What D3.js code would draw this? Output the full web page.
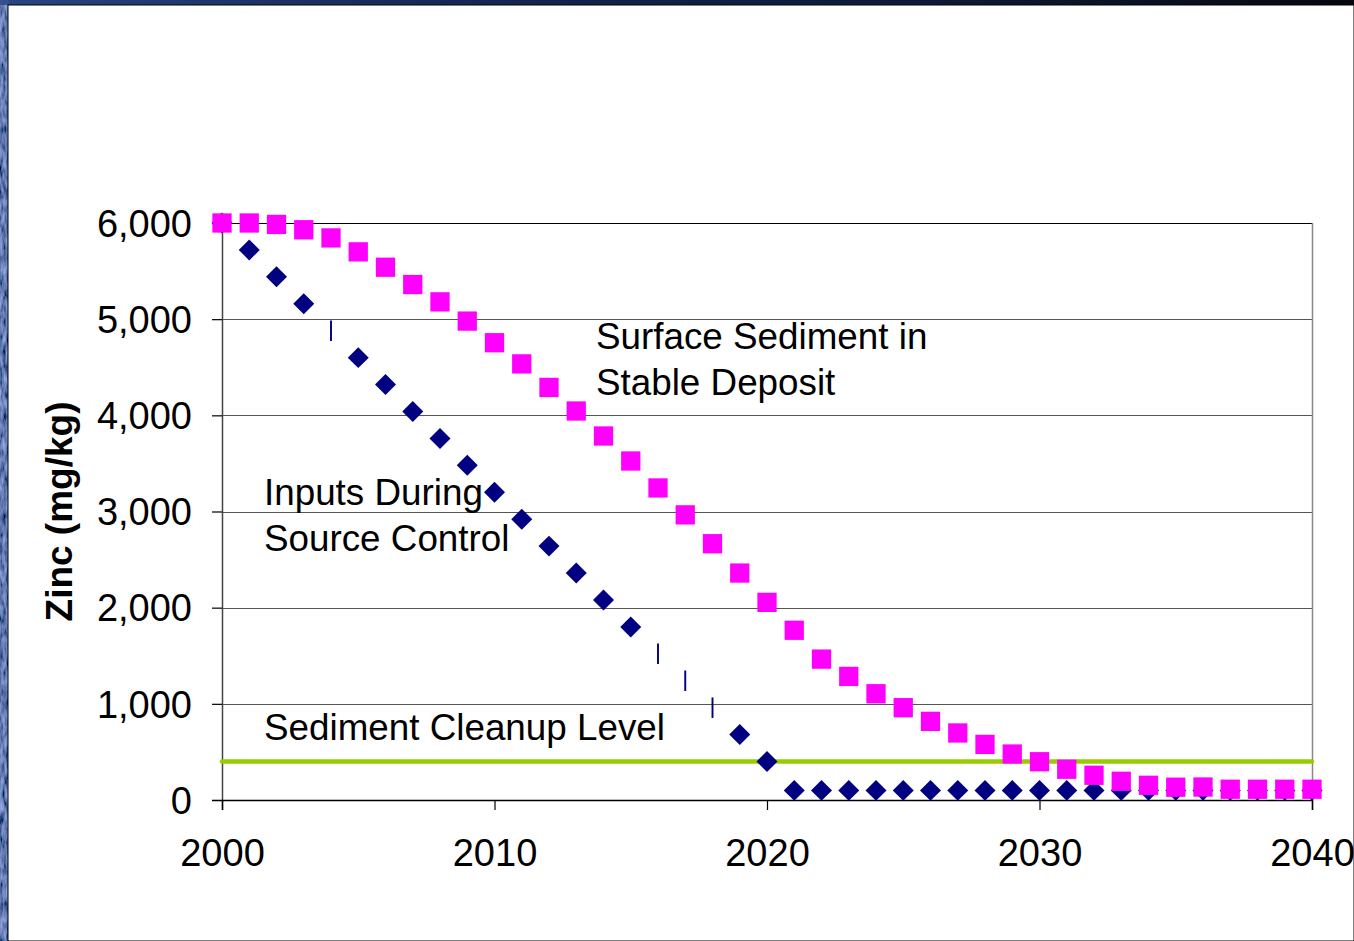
<!DOCTYPE html>
<html>
<head>
<meta charset="utf-8">
<script src="https://cdn.jsdelivr.net/npm/d3@7"></script>
<style>
  html, body { margin: 0; padding: 0; background: #fff; }
  svg { display: block; }
  text { font-family: "Liberation Sans", Arial, sans-serif; fill: #000; }
</style>
</head>
<body>
<svg id="chart" width="1354" height="941"></svg>
<script>
// Years on the x axis
const years = d3.range(2000, 2041);

// Zinc in inputs during source control (mg/kg)
const inputsZinc = [
  6000, 5720, 5440, 5160, 4880, 4600, 4320, 4040, 3760, 3480,
  3200, 2920, 2640, 2360, 2080, 1800, 1520, 1240, 960, 680,
  400, 100, 100, 100, 100, 100, 100, 100, 100, 100,
  100, 100, 100, 100, 100, 100, 100, 100, 100, 100, 100
];

// Zinc in surface sediment of the stable deposit (mg/kg)
const surfaceZinc = [
  6000, 6000, 5985, 5930, 5845, 5700, 5540, 5360, 5180, 4980,
  4755, 4535, 4290, 4045, 3785, 3525, 3245, 2965, 2665, 2360,
  2055, 1765, 1465, 1285, 1105, 960, 818, 697, 578, 478,
  398, 320, 257, 195, 153, 133, 135, 112, 112, 112, 112
];

// Years whose input markers print as thin slivers
const slimInputYears = [2004, 2016, 2017, 2018];

// Sediment cleanup level (mg/kg)
const cleanupLevel = 400;

const yTicks = [0, 1000, 2000, 3000, 4000, 5000, 6000];
const xTicks = [2000, 2010, 2020, 2030, 2040];

const svg = d3.select("#chart");
const W = 1354, H = 941;

// ---- frame: textured blue border around the white panel ----
const defs = svg.append("defs");
const water = defs.append("filter").attr("id", "water")
  .attr("x", 0).attr("y", 0).attr("width", "100%").attr("height", "100%");
water.append("feTurbulence").attr("type", "fractalNoise")
  .attr("baseFrequency", "0.3 0.08").attr("numOctaves", 3).attr("seed", 7);
water.append("feColorMatrix").attr("type", "matrix")
  .attr("values", "0.5 0 0 0 -0.12  0.6 0 0 0 -0.1  1.1 0 0 0 -0.1  0 0 0 0 1");

svg.append("rect").attr("x", 0).attr("y", 0).attr("width", W).attr("height", H)
  .attr("fill", "#0b1a3c");
svg.append("rect").attr("x", 0).attr("y", 0).attr("width", 9).attr("height", H)
  .attr("filter", "url(#water)");
const topGrad = defs.append("linearGradient").attr("id", "topfade")
  .attr("x1", 0).attr("x2", 1).attr("y1", 0).attr("y2", 0);
topGrad.append("stop").attr("offset", "0").attr("stop-color", "#2b4b8a").attr("stop-opacity", 0.9);
topGrad.append("stop").attr("offset", "0.45").attr("stop-color", "#142650").attr("stop-opacity", 0.6);
topGrad.append("stop").attr("offset", "1").attr("stop-color", "#05070d").attr("stop-opacity", 1);
svg.append("rect").attr("x", 0).attr("y", 0).attr("width", W).attr("height", 5)
  .attr("fill", "url(#topfade)");

// white panel
svg.append("rect").attr("x", 8).attr("y", 5).attr("width", W - 8).attr("height", H - 5)
  .attr("fill", "#fff").attr("stroke", "#000").attr("stroke-width", 1);

// ---- scales ----
const x = d3.scaleLinear().domain([2000, 2040]).range([222, 1312]);
const y = d3.scaleLinear().domain([0, 6000]).range([800, 223]);

// gridlines
svg.append("g").selectAll("line").data(yTicks.filter(v => v > 0)).join("line")
  .attr("x1", x(2000)).attr("x2", x(2040))
  .attr("y1", d => Math.round(y(d)) + 0.5).attr("y2", d => Math.round(y(d)) + 0.5)
  .attr("stroke", d => d === 6000 ? "#000" : "#555").attr("stroke-width", 1.2);

// right border of plot area
svg.append("line")
  .attr("x1", Math.round(x(2040)) + 0.5).attr("x2", Math.round(x(2040)) + 0.5)
  .attr("y1", y(6000)).attr("y2", y(0))
  .attr("stroke", "#888").attr("stroke-width", 1.5);

// y axis
const yAxis = d3.axisLeft(y).tickValues(yTicks)
  .tickFormat(d3.format(",")).tickSize(10).tickPadding(20);
const gy = svg.append("g").attr("transform", `translate(${x(2000)},0)`).call(yAxis);
gy.select(".domain").attr("stroke", "#444").attr("stroke-width", 1.5);
gy.selectAll(".tick line").attr("stroke", "#000").attr("stroke-width", 1.2);
gy.selectAll(".tick text").attr("font-size", 38).attr("dy", "0.35em")
  .style("font-family", "'Liberation Sans', Arial, sans-serif");

// x axis
const xAxis = d3.axisBottom(x).tickValues(xTicks)
  .tickFormat(d3.format("d")).tickSize(10).tickPadding(29);
const gx = svg.append("g").attr("transform", `translate(0,${y(0)})`).call(xAxis);
gx.select(".domain").attr("stroke", "#000").attr("stroke-width", 1.5);
gx.selectAll(".tick line").attr("stroke", "#000").attr("stroke-width", 1.2);
gx.selectAll(".tick text").attr("font-size", 38)
  .style("font-family", "'Liberation Sans', Arial, sans-serif");

// y axis title
svg.append("text")
  .attr("transform", `translate(72,${(y(0) + y(6000)) / 2}) rotate(-90)`)
  .attr("text-anchor", "middle")
  .attr("font-size", 37).attr("font-weight", "bold")
  .text("Zinc (mg/kg)");

// cleanup level line
svg.append("line")
  .attr("x1", x(2000)).attr("x2", x(2040))
  .attr("y1", y(cleanupLevel)).attr("y2", y(cleanupLevel))
  .attr("stroke", "#99cc00").attr("stroke-width", 4.5).attr("stroke-linecap", "round");

// input markers (diamonds; a few print as thin vertical slivers)
const inputSquare = d3.symbol(d3.symbolSquare).size(220)();
svg.append("g").selectAll("path")
  .data(years.map((yr, i) => ({ yr, v: inputsZinc[i] })))
  .join("path")
  .attr("d", inputSquare)
  .attr("fill", "#000080")
  .attr("transform", d => slimInputYears.includes(d.yr)
    ? `translate(${x(d.yr)},${y(d.v)}) scale(0.13,1.38)`
    : `translate(${x(d.yr)},${y(d.v)}) rotate(45)`);

// surface sediment markers (squares)
const square = d3.symbol(d3.symbolSquare).size(372)();
svg.append("g").selectAll("path")
  .data(years.map((yr, i) => ({ yr, v: surfaceZinc[i] })))
  .join("path")
  .attr("d", square)
  .attr("fill", "#ff00ff")
  .attr("transform", d => `translate(${x(d.yr)},${y(d.v)})`);

// annotations
const notes = [
  { lines: ["Surface Sediment in", "Stable Deposit"], x: 596, y: 349 },
  { lines: ["Inputs During", "Source Control"], x: 264, y: 505 },
  { lines: ["Sediment Cleanup Level"], x: 264, y: 740 }
];
notes.forEach(n => {
  const t = svg.append("text").attr("x", n.x).attr("y", n.y).attr("font-size", 36.8);
  n.lines.forEach((ln, i) => {
    t.append("tspan").attr("x", n.x).attr("dy", i === 0 ? 0 : 46).text(ln);
  });
});
</script>
</body>
</html>
